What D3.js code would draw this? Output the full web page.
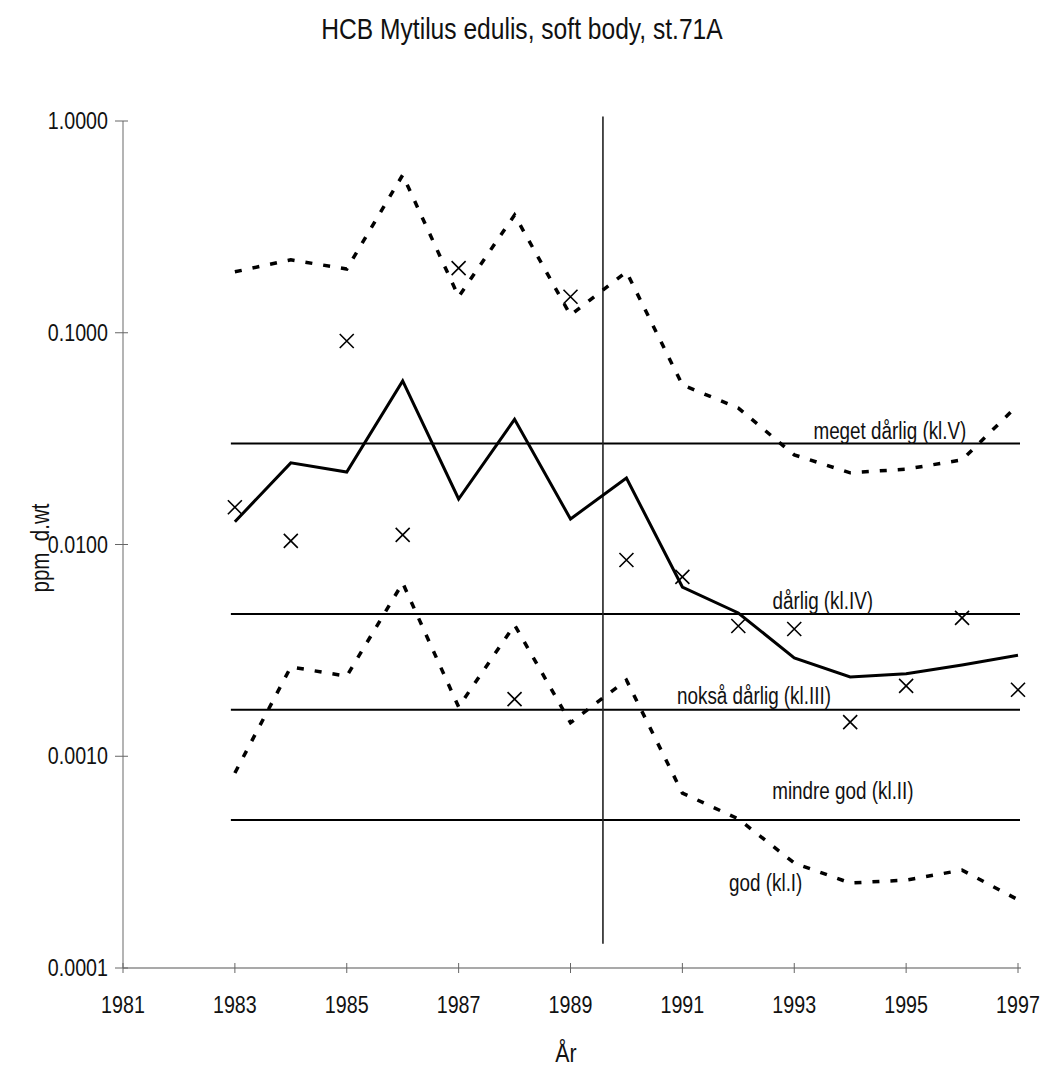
<!DOCTYPE html>
<html><head><meta charset="utf-8">
<script src="https://cdn.jsdelivr.net/npm/d3@7"></script>
<style>
body{margin:0;background:#fff;}
text{font-family:"Liberation Sans",Arial,sans-serif;fill:#111;white-space:pre;}
</style></head><body>
<svg id="chart" width="1043" height="1070"></svg>
<script>
const years = [1983,1984,1985,1986,1987,1988,1989,1990,1991,1992,1993,1994,1995,1996,1997];
const observed = [0.0150,0.0104,0.0914,0.0111,0.202,0.00186,0.148,0.00845,0.00703,0.00412,0.00399,0.00145,0.00215,0.00450,0.00206];
const trend = [0.0128,0.0243,0.0220,0.0592,0.0164,0.0390,0.0132,0.0206,0.00630,0.00475,0.00291,0.00237,0.00245,0.00270,0.00300];
const upper = [0.194,0.221,0.200,0.556,0.148,0.360,0.121,0.194,0.0567,0.0441,0.0265,0.0218,0.0227,0.0251,0.0456];
const lower = [0.000834,0.00264,0.00239,0.00658,0.00171,0.00417,0.00144,0.00229,0.00067,0.000506,0.000313,0.000252,0.00026,0.00029,0.00021];
const classLimits = [0.030,0.0047,0.00166,0.0005];
const classNames = ["meget dårlig (kl.V)","dårlig (kl.IV)","nokså dårlig (kl.III)","mindre god (kl.II)","god (kl.I)"];
const classLabelPos = [[1994.71,0.0315],[1993.51,0.00495],[1992.28,0.00176],[1993.87,0.000625],[1992.49,0.000232]];
const xTicks = [1981,1983,1985,1987,1989,1991,1993,1995,1997];
const yTicks = [1,0.1,0.01,0.001,0.0001];
const markerYear = 1989.58;
const markerRange = [1.05,0.00013];
const title = "HCB Mytilus edulis, soft body, st.71A";
const xTitle = "År";
const yTitle = "ppm\u00a0\u00a0d.wt";

const svg = d3.select("#chart");
const x = d3.scaleLinear().domain([1981,1997]).range([123,1018]);
const y = d3.scaleLog().domain([0.0001,1]).range([968,121]);
const SX = 0.82;
function ntext(px, py, str, size, anchor){
  const g = svg.append("g").attr("transform",`translate(${px},${py}) scale(${SX},1)`);
  g.append("text").attr("text-anchor",anchor||"middle").attr("font-size",size).text(str);
  return g;
}

// axes
const axisColor = "#8c8c8c";
svg.append("line").attr("x1",x(1981)).attr("x2",x(1997)+3).attr("y1",y(0.0001)).attr("y2",y(0.0001)).attr("stroke",axisColor).attr("stroke-width",1.3);
svg.append("line").attr("x1",x(1981)).attr("x2",x(1981)).attr("y1",y(1)).attr("y2",y(0.0001)).attr("stroke",axisColor).attr("stroke-width",1.3);
xTicks.forEach(t=>{
  svg.append("line").attr("x1",x(t)).attr("x2",x(t)).attr("y1",y(0.0001)-5).attr("y2",y(0.0001)+5).attr("stroke","#666").attr("stroke-width",1);
  ntext(x(t), y(0.0001)+45, t, 24);
});
yTicks.forEach(t=>{
  svg.append("line").attr("x1",x(1981)-8).attr("x2",x(1981)+5).attr("y1",y(t)).attr("y2",y(t)).attr("stroke","#666").attr("stroke-width",1);
  ntext(x(1981)-15, y(t)+8, d3.format(".4f")(t), 24, "end");
});

// titles
ntext(522, 39, title, 30);
ntext(566, 1062, xTitle, 26);
svg.append("text").attr("transform",`translate(49,548) rotate(-90) scale(${SX},1)`).attr("text-anchor","middle").attr("font-size",25).text(yTitle);

// class limit lines
classLimits.forEach(v=>{
  svg.append("line").attr("x1",x(1983)-4).attr("x2",x(1997)+2).attr("y1",y(v)).attr("y2",y(v)).attr("stroke","#000").attr("stroke-width",2);
});
classNames.forEach((n,i)=>{
  ntext(x(classLabelPos[i][0]), y(classLabelPos[i][1]), n, 23);
});

// vertical marker
svg.append("line").attr("x1",x(markerYear)).attr("x2",x(markerYear)).attr("y1",y(markerRange[0])).attr("y2",y(markerRange[1])).attr("stroke","#222").attr("stroke-width",1.6);

const line = d3.line().x((d,i)=>x(years[i])).y(d=>y(d));
svg.append("path").attr("d",line(upper)).attr("fill","none").attr("stroke","#000").attr("stroke-width",3.5).attr("stroke-dasharray","7,11");
svg.append("path").attr("d",line(lower)).attr("fill","none").attr("stroke","#000").attr("stroke-width",3.5).attr("stroke-dasharray","7,11");
svg.append("path").attr("d",line(trend)).attr("fill","none").attr("stroke","#000").attr("stroke-width",3).attr("stroke-linejoin","miter");

// observed X markers
const s = 7;
observed.forEach((v,i)=>{
  const cx = x(years[i]), cy = y(v);
  svg.append("path").attr("d",`M${cx-s},${cy-s}L${cx+s},${cy+s}M${cx-s},${cy+s}L${cx+s},${cy-s}`).attr("stroke","#000").attr("stroke-width",1.6).attr("fill","none");
});
</script></body></html>
